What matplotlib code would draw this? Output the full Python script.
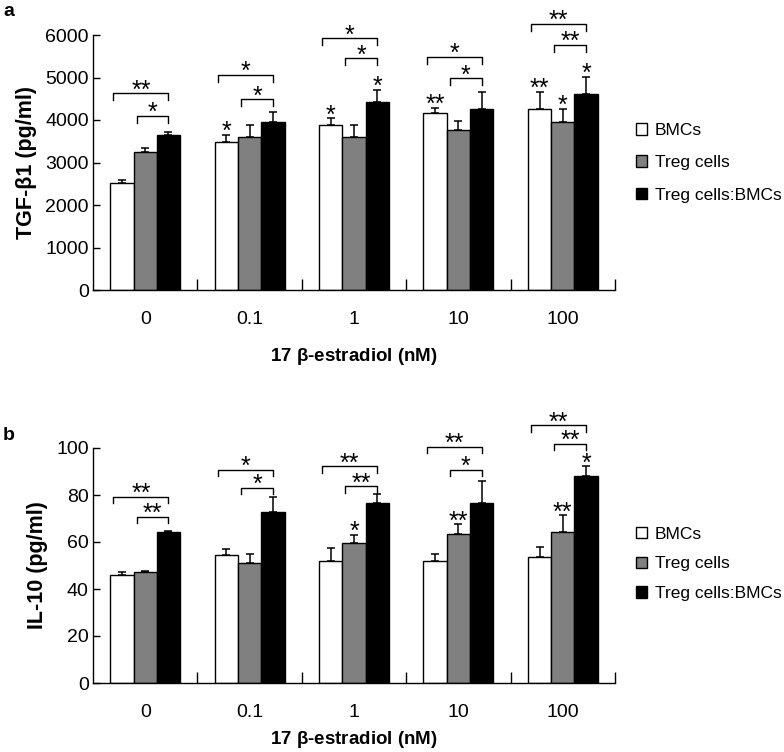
import numpy as np
import matplotlib
matplotlib.use('Agg')
import matplotlib.pyplot as plt
from matplotlib.patches import Patch

plt.rcParams['font.family'] = ['Liberation Sans', 'DejaVu Sans']

groups = ['0', '0.1', '1', '10', '100']
series = ['BMCs', 'Treg cells', 'Treg cells:BMCs']
colors = ['white', '#808080', 'black']

# TGF-beta1 (pg/ml)
tgf_bmc = [2510, 3490, 3880, 4160, 4250]
tgf_bmc_err = [80, 160, 160, 120, 420]
tgf_treg = [3250, 3610, 3610, 3770, 3950]
tgf_treg_err = [90, 270, 270, 200, 320]
tgf_co = [3655, 3960, 4430, 4250, 4610]
tgf_co_err = [70, 240, 280, 420, 410]

tgf_outer_y = [4627, 5059, 5922, 5490, 6259]
tgf_outer_s = ['**', '*', '*', '*', '**']
tgf_inner_y = [4094, 4486, 5451, 4980, 5765]
tgf_inner_s = ['*', '*', '*', '*', '**']
tgf_bar_s = [['', '*', '*', '**', '**'],
             ['', '', '', '', '*'],
             ['', '', '*', '', '*']]

# IL-10 (pg/ml)
il_bmc = [45.8, 54.3, 51.8, 51.8, 53.6]
il_bmc_err = [1.4, 2.9, 5.8, 3.2, 4.3]
il_treg = [47.2, 51.1, 59.6, 63.5, 64.3]
il_treg_err = [0.6, 3.9, 3.4, 4.0, 7.0]
il_co = [64.3, 72.8, 76.7, 76.7, 87.9]
il_co_err = [0.5, 6.3, 3.9, 9.3, 4.3]

il_outer_y = [79.1, 90.8, 92.2, 100.4, 109.6]
il_outer_s = ['**', '*', '**', '**', '**']
il_inner_y = [70.6, 83.1, 83.7, 90.8, 101.8]
il_inner_s = ['**', '*', '**', '*', '**']
il_bar_s = [['', '', '', '', ''],
            ['', '', '*', '**', '**'],
            ['', '', '', '', '*']]

W = 0.223
STAR_FS = 18


def star(ax, x, y, s, dy=7):
    # place the star glyph centre about dy points above y
    ax.annotate(s, xy=(x, y), xytext=(0, dy - 0.58 * STAR_FS),
                textcoords='offset points', ha='center', va='baseline',
                fontsize=STAR_FS, annotation_clip=False)


def panel(ax, vals, errs, ymax, step, ylabel, outer_y, outer_s, inner_y, inner_s,
          bar_s, xlpad, leg_y, leg_sp):
    x = np.arange(len(groups))
    offs = [-W, 0, W]
    for i in range(3):
        ax.bar(x + offs[i], vals[i], W, color=colors[i], edgecolor='black',
               linewidth=1.0, zorder=2)
        ax.errorbar(x + offs[i], vals[i], yerr=[np.zeros(len(x)), errs[i]],
                    fmt='none', ecolor='black', elinewidth=1.1, capsize=3,
                    capthick=1.1, zorder=3)
        for j in range(len(x)):
            if bar_s[i][j]:
                star(ax, x[j] + offs[i], vals[i][j] + errs[i][j], bar_s[i][j], dy=7.5)
    drop = 0.027 * ymax
    for j in range(len(x)):
        right = x[j] + W
        for left, yy, s in [(x[j] - 1.5 * W + 0.03, outer_y[j], outer_s[j]),
                            (x[j] - 0.5 * W + 0.03, inner_y[j], inner_s[j])]:
            ax.plot([left, left, right, right], [yy - drop, yy, yy, yy - drop],
                    color='black', lw=1.0, clip_on=False, zorder=4)
            star(ax, (left + right) / 2, yy, s, dy=7.5)

    ax.set_xlim(-0.5, len(groups) - 0.5)
    ax.set_ylim(0, ymax)
    ax.set_yticks(np.arange(0, ymax + step / 2, step))
    ax.set_xticks(x)
    ax.set_xticklabels(groups)
    ax.set_xticks(np.arange(0.5, len(groups), 1.0), minor=True)
    ax.tick_params(axis='x', which='major', length=0, pad=15, labelsize=14)
    ax.tick_params(axis='x', which='minor', direction='in', length=8, width=1.0)
    ax.tick_params(axis='y', direction='in', length=5, width=1.0, pad=3, labelsize=14)
    for sp in ['top', 'right']:
        ax.spines[sp].set_visible(False)
    for sp in ['left', 'bottom']:
        ax.spines[sp].set_linewidth(1.0)
    ax.set_ylabel(ylabel, fontsize=15.5, fontweight='bold', labelpad=6)
    ax.set_xlabel(r'17 $\mathregular{\beta}$-estradiol (nM)', fontsize=13.5,
                  fontweight='bold', labelpad=xlpad)
    handles = [Patch(facecolor=c, edgecolor='black', linewidth=1.0) for c in colors]
    ax.legend(handles, series, loc='upper left', bbox_to_anchor=(1.04, leg_y),
              frameon=False, fontsize=12.5, handlelength=0.64, handleheight=0.64,
              handletextpad=0.45, labelspacing=leg_sp, borderaxespad=0,
              borderpad=0)


fig = plt.figure(figsize=(7.84, 7.52), dpi=100)
ax1 = fig.add_axes([93 / 784, 1 - 290 / 752, 522 / 784, 255 / 752])
ax2 = fig.add_axes([93 / 784, 1 - 683 / 752, 522 / 784, 235 / 752])

panel(ax1, [tgf_bmc, tgf_treg, tgf_co], [tgf_bmc_err, tgf_treg_err, tgf_co_err],
      6000, 1000, 'TGF-β1 (pg/ml)', tgf_outer_y, tgf_outer_s, tgf_inner_y, tgf_inner_s,
      tgf_bar_s, 13, 0.655, 1.0)
panel(ax2, [il_bmc, il_treg, il_co], [il_bmc_err, il_treg_err, il_co_err],
      100, 20, 'IL-10 (pg/ml)', il_outer_y, il_outer_s, il_inner_y, il_inner_s,
      il_bar_s, 6, 0.665, 0.85)

fig.text(3 / 784, 1 - 16 / 752, 'a', fontsize=14, fontweight='bold')
fig.text(3 / 784, 1 - 440 / 752, 'b', fontsize=14, fontweight='bold')

fig.savefig('out.png', dpi=100)
